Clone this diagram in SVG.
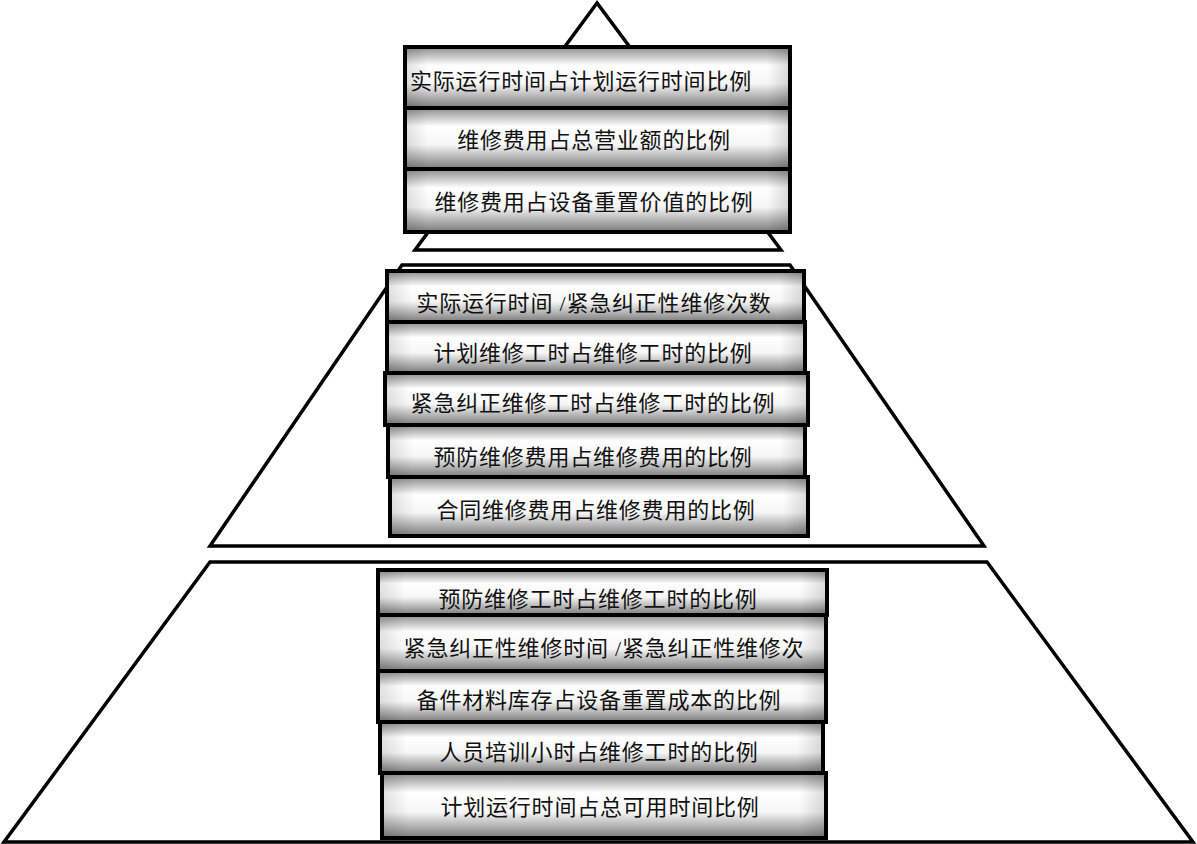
<svg xmlns="http://www.w3.org/2000/svg" width="1197" height="844" viewBox="0 0 1197 844">
<defs>
<linearGradient id="cyl" x1="0" y1="0" x2="0" y2="1">
<stop offset="0" stop-color="#8c8c8c"/>
<stop offset="0.3" stop-color="#ffffff"/>
<stop offset="0.6" stop-color="#f6f6f6"/>
<stop offset="1" stop-color="#7a7a7a"/>
</linearGradient>
<linearGradient id="side" x1="0" y1="0" x2="1" y2="0">
<stop offset="0" stop-color="#000" stop-opacity="0.12"/>
<stop offset="0.06" stop-color="#000" stop-opacity="0"/>
<stop offset="0.94" stop-color="#000" stop-opacity="0"/>
<stop offset="1" stop-color="#000" stop-opacity="0.15"/>
</linearGradient>
</defs>
<style>
.tier{fill:#ffffff;stroke:#000;stroke-width:3.5;stroke-linejoin:miter}
.box{fill:url(#cyl);stroke:#000;stroke-width:4}
.shade{fill:url(#side);stroke:none}
.lbl{font-family:"Liberation Serif","Noto Sans CJK SC",serif;font-size:22px;letter-spacing:0.8px;text-anchor:middle;fill:#111}
</style>
<rect width="1197" height="844" fill="#ffffff"/>
<g id="tiers">
<polygon id="tier-top" class="tier" points="597,3 415,250 781,250"/>
<polygon id="tier-middle" class="tier" points="402,265 790,265 984,546 210,546"/>
<polygon id="tier-bottom" class="tier" points="210,562 987,562 1193,842 4,842"/>
</g>
<g id="connectors"/>
<g id="top-1"><rect class="box" x="405" y="47" width="385" height="61"/><rect class="shade" x="405" y="47" width="385" height="61"/><text class="lbl" x="581" y="89">实际运行时间占计划运行时间比例</text></g>
<g id="top-2"><rect class="box" x="405" y="108" width="385" height="61"/><rect class="shade" x="405" y="108" width="385" height="61"/><text class="lbl" x="594" y="148">维修费用占总营业额的比例</text></g>
<g id="top-3"><rect class="box" x="405" y="169" width="385" height="63"/><rect class="shade" x="405" y="169" width="385" height="63"/><text class="lbl" x="594" y="210">维修费用占设备重置价值的比例</text></g>
<g id="mid-1"><rect class="box" x="387" y="271" width="417" height="51"/><rect class="shade" x="387" y="271" width="417" height="51"/><text class="lbl" x="594" y="311">实际运行时间 /紧急纠正性维修次数</text></g>
<g id="mid-2"><rect class="box" x="387" y="322" width="418" height="51"/><rect class="shade" x="387" y="322" width="418" height="51"/><text class="lbl" x="593" y="361">计划维修工时占维修工时的比例</text></g>
<g id="mid-5"><rect class="box" x="390" y="477" width="418" height="59"/><rect class="shade" x="390" y="477" width="418" height="59"/><text class="lbl" x="596" y="518">合同维修费用占维修费用的比例</text></g>
<g id="mid-4"><rect class="box" x="388" y="425" width="417" height="52"/><rect class="shade" x="388" y="425" width="417" height="52"/><text class="lbl" x="593" y="465">预防维修费用占维修费用的比例</text></g>
<g id="mid-3"><rect class="box" x="385" y="373" width="423" height="52"/><rect class="shade" x="385" y="373" width="423" height="52"/><text class="lbl" x="593" y="411">紧急纠正维修工时占维修工时的比例</text></g>
<g id="bot-1"><rect class="box" x="378" y="570" width="449" height="45"/><rect class="shade" x="378" y="570" width="449" height="45"/><text class="lbl" x="598" y="607">预防维修工时占维修工时的比例</text></g>
<g id="bot-2"><rect class="box" x="378" y="615" width="448" height="56"/><rect class="shade" x="378" y="615" width="448" height="56"/><text class="lbl" x="604" y="656">紧急纠正性维修时间 /紧急纠正性维修次</text></g>
<g id="bot-3"><rect class="box" x="378" y="671" width="448" height="51"/><rect class="shade" x="378" y="671" width="448" height="51"/><text class="lbl" x="599" y="708">备件材料库存占设备重置成本的比例</text></g>
<g id="bot-5"><rect class="box" x="382" y="773" width="444" height="65"/><rect class="shade" x="382" y="773" width="444" height="65"/><text class="lbl" x="600" y="815">计划运行时间占总可用时间比例</text></g>
<g id="bot-4"><rect class="box" x="380" y="722" width="443" height="51"/><rect class="shade" x="380" y="722" width="443" height="51"/><text class="lbl" x="599" y="760">人员培训小时占维修工时的比例</text></g>
</svg>
